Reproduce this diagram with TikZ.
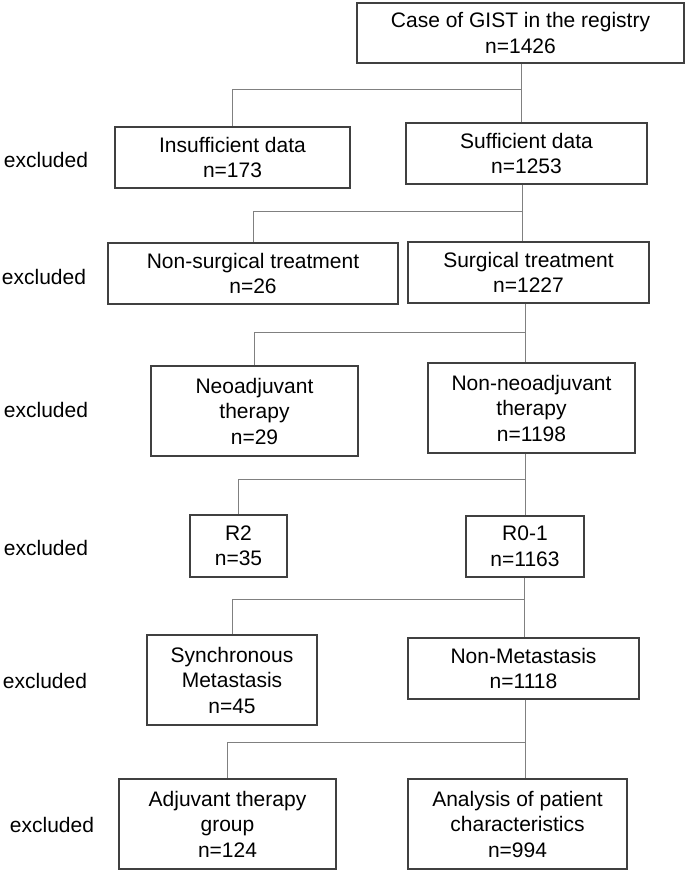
\documentclass[tikz,border=0pt]{standalone}
\usepackage{fontspec}
\setmainfont{Liberation Sans}
\begin{document}
\definecolor{boxgray}{HTML}{404040}
\definecolor{linegray}{HTML}{808080}
\tikzset{
  fbox/.style={draw=boxgray, line width=1.2pt, align=center, inner sep=0pt,
    font=\fontsize{21}{25.5}\selectfont},
  excl/.style={inner sep=0pt, font=\fontsize{21}{25.5}\selectfont},
  conn/.style={draw=linegray, line width=1pt}
}
\begin{tikzpicture}[x=1pt,y=-1pt]
\useasboundingbox (0,0) rectangle (685,872);
% boxes
\node[fbox, minimum width=327pt, minimum height=60pt] (top) at (520.5,33) {Case of GIST in the registry\\n=1426};
\node[fbox, minimum width=235pt, minimum height=61pt] (insuf) at (232.5,157.5) {Insufficient data\\n=173};
\node[fbox, minimum width=241pt, minimum height=61pt] (suf) at (526.5,153.5) {Sufficient data\\n=1253};
\node[fbox, minimum width=290pt, minimum height=61pt] (nonsurg) at (253,273.5) {Non-surgical treatment\\n=26};
\node[fbox, minimum width=241pt, minimum height=61pt] (surg) at (528.5,272.5) {Surgical treatment\\n=1227};
\node[fbox, minimum width=207pt, minimum height=90pt] (neo) at (254.5,411) {Neoadjuvant\\therapy\\n=29};
\node[fbox, minimum width=207pt, minimum height=90pt] (nonneo) at (531.5,408) {Non-neoadjuvant\\therapy\\n=1198};
\node[fbox, minimum width=97pt, minimum height=62pt] (rtwo) at (238.5,546) {R2\\n=35};
\node[fbox, minimum width=118pt, minimum height=61pt] (rzero) at (525,546.5) {R0-1\\n=1163};
\node[fbox, minimum width=170pt, minimum height=90pt] (sync) at (232,680) {Synchronous\\Metastasis\\n=45};
\node[fbox, minimum width=231pt, minimum height=61pt] (nonmet) at (523.5,668.5) {Non-Metastasis\\n=1118};
\node[fbox, minimum width=217pt, minimum height=90pt] (adj) at (227.5,824) {Adjuvant therapy\\group\\n=124};
\node[fbox, minimum width=219pt, minimum height=90pt] (anal) at (517.5,824) {Analysis of patient\\characteristics\\n=994};
% excluded labels
\node[excl] (e1) at (46,160) {excluded};
\node[excl] (e2) at (44,277) {excluded};
\node[excl] (e3) at (46,410) {excluded};
\node[excl] (e4) at (46,548) {excluded};
\node[excl] (e5) at (45,681) {excluded};
\node[excl] (e6) at (52,825) {excluded};
% junctions
\coordinate (j1) at (521,90);
\coordinate (j2) at (522,211);
\coordinate (j3) at (525,332);
\coordinate (j4) at (525,479);
\coordinate (j5) at (524,599);
\coordinate (j6) at (525,742);
% connectors
\draw[conn] (top.south -| j1) -- (suf.north -| j1);
\draw[conn] (j1) -| (insuf.north);
\draw[conn] (suf.south -| j2) -- (surg.north -| j2);
\draw[conn] (j2) -| (nonsurg.north);
\draw[conn] (surg.south -| j3) -- (nonneo.north -| j3);
\draw[conn] (j3) -| (neo.north);
\draw[conn] (nonneo.south -| j4) -- (rzero.north -| j4);
\draw[conn] (j4) -| (rtwo.north);
\draw[conn] (rzero.south -| j5) -- (nonmet.north -| j5);
\draw[conn] (j5) -| (sync.north);
\draw[conn] (nonmet.south -| j6) -- (anal.north -| j6);
\draw[conn] (j6) -| (adj.north);
\end{tikzpicture}
\end{document}
